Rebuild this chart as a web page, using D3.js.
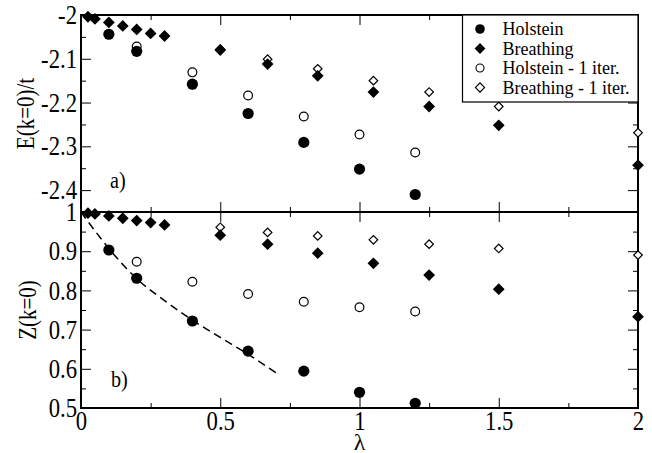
<!DOCTYPE html>
<html>
<head>
<meta charset="utf-8">
<script src="https://cdn.jsdelivr.net/npm/d3@7"></script>
</head>
<body style="margin:0">
<div id="chart"></div>
<script>
// values
const lamHol = [0.1, 0.2, 0.4, 0.6, 0.8, 1.0, 1.2]
const eHol = [-2.044, -2.083, -2.158, -2.225, -2.291, -2.352, -2.41]
const zHol = [0.903, 0.831, 0.722, 0.645, 0.594, 0.540, 0.512]

const lamHol1 = [0.2, 0.4, 0.6, 0.8, 1.0, 1.2]
const eHol1 = [-2.072, -2.131, -2.184, -2.232, -2.273, -2.314]
const zHol1 = [0.873, 0.822, 0.791, 0.771, 0.757, 0.746]

const lamBr = [0.025, 0.05, 0.1, 0.15, 0.2, 0.25, 0.3, 0.5, 0.67, 0.85, 1.05, 1.25, 1.5, 2.0]
const eBr = [-2.004, -2.009, -2.017, -2.025, -2.033, -2.042, -2.048, -2.080, -2.112, -2.139, -2.176, -2.209, -2.252, -2.343]
const zBr = [0.997, 0.995, 0.990, 0.984, 0.978, 0.973, 0.967, 0.941, 0.918, 0.895, 0.869, 0.839, 0.803, 0.733]

const lamBr1 = [0.5, 0.67, 0.85, 1.05, 1.25, 1.5, 2.0]
const eBr1 = [-2.078, -2.101, -2.123, -2.150, -2.176, -2.209, -2.269]
const zBr1 = [0.961, 0.948, 0.939, 0.929, 0.918, 0.907, 0.890]

// dashed curve in panel b)
const lamFit = [0, 0.05, 0.1, 0.15, 0.2, 0.3, 0.4, 0.5, 0.6, 0.7]
const zFit = [1, 0.952, 0.907, 0.866, 0.83, 0.774, 0.724, 0.68, 0.637, 0.59]

const lamTicks = [0, 0.5, 1, 1.5, 2]
const lamMinor = [0.25, 0.75, 1.25, 1.75]
const eTicks = [-2, -2.1, -2.2, -2.3, -2.4]
const eMinor = [-2.05, -2.15, -2.25, -2.35, -2.45]
const zTicks = [0.5, 0.6, 0.7, 0.8, 0.9, 1]
const zMinor = [0.55, 0.65, 0.75, 0.85, 0.95]

const legendNames = ["Holstein", "Breathing", "Holstein - 1 iter.", "Breathing - 1 iter."]

const W = 652, H = 453
const mLeft = 81, mRight = 638, mTop = 15, mMid = 212, mBottom = 408
const FONT = "Liberation Serif"

const svg = d3.select("#chart").append("svg")
  .attr("width", W).attr("height", H)
  .style("display", "block")

const x = d3.scaleLinear().domain([0, 2]).range([mLeft, mRight])
const yE = d3.scaleLinear().domain([-2.45, -2]).range([mMid, mTop])
const yZ = d3.scaleLinear().domain([0.5, 1]).range([mBottom, mMid])

const fmt = d => String(d)

function serif(sel, size) {
  return sel.attr("font-family", FONT).style("font-family", `'${FONT}'`)
    .attr("font-size", size)
}

function ticks(g, axis) {
  g.call(axis)
  g.attr("font-family", null)
  g.select(".domain").remove()
  g.selectAll(".tick line").attr("stroke", "#000").attr("stroke-width", 1)
  serif(g.selectAll(".tick text"), 27).attr("fill", "#000").attr("class", "cmp")
}

function panel(y, yMajor, yMinor, y0, y1, labelX) {
  const g = svg.append("g")
  // x ticks, bottom and top sides
  ticks(g.append("g").attr("transform", `translate(0,${y1})`),
    d3.axisBottom(x).tickValues(lamTicks).tickSize(-10).tickPadding(3).tickFormat(labelX ? fmt : ""))
  ticks(g.append("g").attr("transform", `translate(0,${y1})`),
    d3.axisBottom(x).tickValues(lamMinor).tickSize(-5).tickFormat(""))
  ticks(g.append("g").attr("transform", `translate(0,${y0})`),
    d3.axisTop(x).tickValues(lamTicks).tickSize(-10).tickFormat(""))
  ticks(g.append("g").attr("transform", `translate(0,${y0})`),
    d3.axisTop(x).tickValues(lamMinor).tickSize(-5).tickFormat(""))
  // y ticks, left and right sides
  ticks(g.append("g").attr("transform", `translate(${mLeft},0)`),
    d3.axisLeft(y).tickValues(yMajor).tickSize(-10).tickPadding(4).tickFormat(fmt))
  ticks(g.append("g").attr("transform", `translate(${mLeft},0)`),
    d3.axisLeft(y).tickValues(yMinor).tickSize(-5).tickFormat(""))
  ticks(g.append("g").attr("transform", `translate(${mRight},0)`),
    d3.axisRight(y).tickValues(yMajor).tickSize(-10).tickFormat(""))
  ticks(g.append("g").attr("transform", `translate(${mRight},0)`),
    d3.axisRight(y).tickValues(yMinor).tickSize(-5).tickFormat(""))

  g.append("rect")
    .attr("x", mLeft).attr("y", y0)
    .attr("width", mRight - mLeft).attr("height", y1 - y0)
    .attr("fill", "none").attr("stroke", "#000").attr("stroke-width", 2)
  return g
}

panel(yE, eTicks, eMinor, mTop, mMid, false)
panel(yZ, zTicks, zMinor, mMid, mBottom, true)

// markers
const diamond = (area) => d3.symbol(d3.symbolSquare, area)()

function circles(lams, vals, y, r, filled) {
  svg.append("g").selectAll("circle")
    .data(lams.map((l, i) => [l, vals[i]]))
    .join("circle")
    .attr("cx", d => x(d[0])).attr("cy", d => y(d[1]))
    .attr("r", r)
    .attr("fill", filled ? "#000" : "#fff")
    .attr("stroke", "#000").attr("stroke-width", filled ? 0 : 1.2)
}

function diamonds(lams, vals, y, half, filled) {
  const side = half * Math.SQRT2
  svg.append("g").selectAll("path")
    .data(lams.map((l, i) => [l, vals[i]]))
    .join("path")
    .attr("d", diamond(side * side))
    .attr("transform", d => `translate(${x(d[0])},${y(d[1])}) rotate(45)`)
    .attr("fill", filled ? "#000" : "#fff")
    .attr("stroke", "#000").attr("stroke-width", filled ? 0 : 1.2)
}

// dashed line
svg.append("path")
  .datum(lamFit.map((l, i) => [l, zFit[i]]))
  .attr("d", d3.line().x(d => x(d[0])).y(d => yZ(d[1])).curve(d3.curveMonotoneX))
  .attr("fill", "none").attr("stroke", "#000")
  .attr("stroke-width", 1.5).attr("stroke-dasharray", "8,5")

circles(lamHol1, eHol1, yE, 4.4, false)
diamonds(lamBr1, eBr1, yE, 4.3, false)
circles(lamHol, eHol, yE, 5.6, true)
diamonds(lamBr, eBr, yE, 5.9, true)

circles(lamHol1, zHol1, yZ, 4.4, false)
diamonds(lamBr1, zBr1, yZ, 4.3, false)
circles(lamHol, zHol, yZ, 5.6, true)
diamonds(lamBr, zBr, yZ, 5.9, true)

// panel labels
serif(svg.append("text"), 24).attr("x", 110).attr("y", 188)
  .attr("class", "cmp").text("a)")
serif(svg.append("text"), 24).attr("x", 111).attr("y", 387)
  .attr("class", "cmp").text("b)")

// axis titles
serif(svg.append("text"), 25)
  .attr("transform", `translate(34,${(mTop + mMid) / 2}) rotate(-90)`)
  .attr("text-anchor", "middle")
  .attr("class", "cmp").text("E(k=0)/t")
serif(svg.append("text"), 25)
  .attr("transform", `translate(36,${(mMid + mBottom) / 2}) rotate(-90)`)
  .attr("text-anchor", "middle")
  .attr("class", "cmp").text("Z(k=0)")
serif(svg.append("text"), 24)
  .attr("x", x(1)).attr("y", 450)
  .attr("text-anchor", "middle")
  .text("λ")

// legend
const lg = svg.append("g")
lg.append("rect")
  .attr("x", 462.5).attr("y", mTop)
  .attr("width", mRight - 462.5).attr("height", 87)
  .attr("fill", "#fff").attr("stroke", "#000").attr("stroke-width", 1.2)

legendNames.forEach((name, i) => {
  const by = 35 + i * 19.5
  const sy = by - 6
  if (i === 0) lg.append("circle").attr("cx", 480).attr("cy", sy).attr("r", 4.8).attr("fill", "#000")
  if (i === 1) lg.append("path").attr("d", diamond(2 * 5.4 * 5.4))
    .attr("transform", `translate(480,${sy}) rotate(45)`).attr("fill", "#000")
  if (i === 2) lg.append("circle").attr("cx", 480).attr("cy", sy).attr("r", 4)
    .attr("fill", "#fff").attr("stroke", "#000").attr("stroke-width", 1.1)
  if (i === 3) lg.append("path").attr("d", diamond(2 * 4.6 * 4.6))
    .attr("transform", `translate(480,${sy}) rotate(45)`)
    .attr("fill", "#fff").attr("stroke", "#000").attr("stroke-width", 1.1)
  serif(lg.append("text"), 18).attr("x", 502.5).attr("y", by).text(name)
})

// the serif text in the picture is narrow and tall
svg.selectAll("text.cmp").each(function() {
  const len = this.getComputedTextLength()
  if (len > 0) d3.select(this).attr("textLength", len * 0.84).attr("lengthAdjust", "spacingAndGlyphs")
})
</script>
</body>
</html>
